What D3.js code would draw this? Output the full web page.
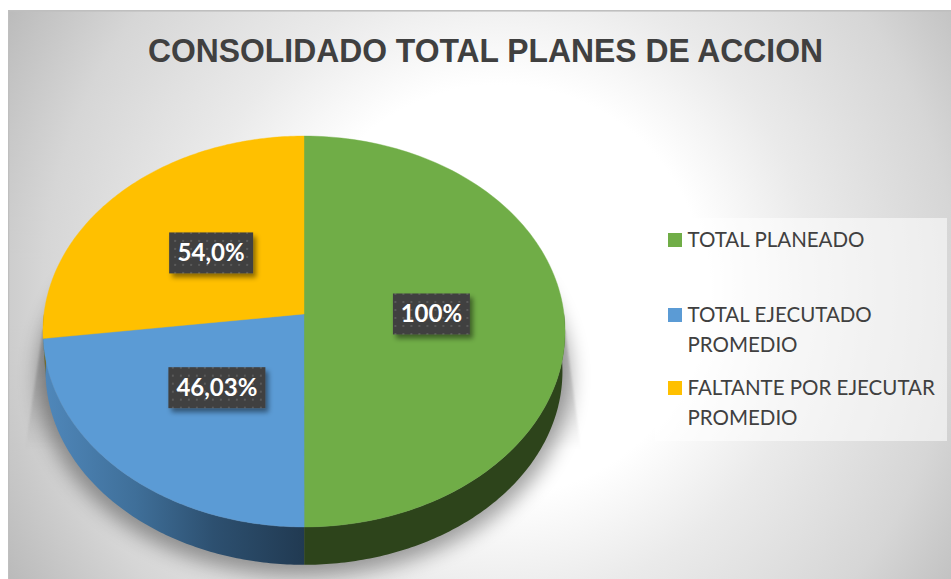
<!DOCTYPE html>
<html><head><meta charset="utf-8">
<script src="https://cdnjs.cloudflare.com/ajax/libs/d3/7.8.5/d3.min.js"></script>
<style>html,body{margin:0;padding:0;background:#fff;overflow:hidden}svg{display:block}</style>
</head><body><div id="c"></div>
<script>
const categories = ["TOTAL PLANEADO", "TOTAL EJECUTADO PROMEDIO", "FALTANTE POR EJECUTAR PROMEDIO"];
const values = [100, 46.03, 54.0];
const valueLabels = ["100%", "46,03%", "54,0%"];
const colors = ["#70ad47", "#5b9bd5", "#ffc000"];
const legendLines = [["TOTAL PLANEADO"], ["TOTAL EJECUTADO", "PROMEDIO"], ["FALTANTE POR EJECUTAR", "PROMEDIO"]];
const title = "CONSOLIDADO TOTAL PLANES DE ACCION";

const W = 951, H = 579;
const svg = d3.select("#c").append("svg").attr("width", W).attr("height", H);
const defs = svg.append("defs");

const bg = defs.append("radialGradient").attr("id", "bg").attr("gradientUnits", "userSpaceOnUse")
  .attr("cx", 500).attr("cy", 290).attr("r", 570);
[[0, "#ffffff"], [0.36, "#ffffff"], [0.55, "#eaeaea"], [0.8, "#d6d6d6"], [1, "#bababa"]].forEach(([o, c]) =>
  bg.append("stop").attr("offset", o).attr("stop-color", c));

const blueWall = defs.append("linearGradient").attr("id", "blueWall").attr("gradientUnits", "userSpaceOnUse")
  .attr("x1", 45).attr("x2", 304).attr("y1", 0).attr("y2", 0);
[[0, "#4f87ba"], [0.35, "#3f6f99"], [0.65, "#2d5070"], [1, "#213a52"]].forEach(([o, c]) =>
  blueWall.append("stop").attr("offset", o).attr("stop-color", c));

defs.append("filter").attr("id", "soft").attr("x", "-20%").attr("y", "-20%").attr("width", "140%").attr("height", "140%")
  .append("feGaussianBlur").attr("stdDeviation", 10);
defs.append("filter").attr("id", "soft2").attr("x", "-30%").attr("y", "-30%").attr("width", "160%").attr("height", "160%")
  .append("feGaussianBlur").attr("stdDeviation", 1.2);
const ds = defs.append("filter").attr("id", "lblShadow").attr("x", "-20%").attr("y", "-30%").attr("width", "150%").attr("height", "170%");
ds.append("feDropShadow").attr("dx", 3).attr("dy", 4).attr("stdDeviation", 2.5).attr("flood-color", "#000").attr("flood-opacity", 0.45);

const dots = defs.append("pattern").attr("id", "dots").attr("width", 8).attr("height", 8).attr("patternUnits", "userSpaceOnUse");
dots.append("rect").attr("width", 8).attr("height", 8).attr("fill", "#404040");
dots.append("rect").attr("x", 3).attr("y", 3).attr("width", 2).attr("height", 2).attr("fill", "#5a5a5a");

// Panel
svg.append("rect").attr("x", 8).attr("y", 10).attr("width", W - 8).attr("height", H - 10).attr("fill", "url(#bg)");
svg.append("rect").attr("x", 8).attr("y", 10).attr("width", W - 8).attr("height", 1.6).attr("fill", "#bfbfbf");
svg.append("rect").attr("x", 8).attr("y", 10).attr("width", 1.2).attr("height", H - 10).attr("fill", "#bfbfbf");

svg.append("text").attr("x", 485.5).attr("y", 62).attr("text-anchor", "middle")
  .attr("font-family", "'Liberation Sans', Arial, sans-serif").attr("font-weight", 700).attr("font-size", 33.5)
  .attr("textLength", 675).attr("lengthAdjust", "spacingAndGlyphs")
  .attr("fill", "#404040").text(title);

// Pie in perspective
const cx = 304, apexY = 314, B = 260, A = 193.9, p = 0.0895, depth = 40;
const project = (ang, f = 1, dy = 0, s = 1) => {
  const u = Math.sin(ang) * f, v = -Math.cos(ang) * f, w = 1 - p * v;
  return [cx + s * B * u / w, apexY + dy + s * A * v / w];
};
const arcs = d3.pie().sort(null).value(d => d)(values);
const line = d3.line();
const rim = (a0, a1, dy = 0, s = 1) => d3.range(0, 121).map(i => project(a0 + (a1 - a0) * i / 120, 1, dy, s));

// Shadow
const sg = svg.append("g");
const flare = defs.append("linearGradient").attr("id", "flare").attr("gradientUnits", "userSpaceOnUse")
  .attr("x1", 0).attr("x2", 0).attr("y1", 330).attr("y2", 450);
[[0, 0.2], [0.6, 0.1], [1, 0]].forEach(([o, a]) => flare.append("stop").attr("offset", o).attr("stop-color", "#000").attr("stop-opacity", a));
const flareL = [[43, 330], [25, 450], [110, 450], [70, 330]];
const flareR = [[565, 330], [581, 450], [500, 450], [540, 330]];
[flareL, flareR].forEach(r => sg.append("path").attr("d", line(r) + "Z").attr("fill", "url(#flare)").attr("filter", "url(#soft2)"));
sg.append("path").attr("d", line(rim(0, 2 * Math.PI, depth + 5, 1.02)) + "Z").attr("fill", "#000").attr("opacity", 0.36).attr("filter", "url(#soft)");

// Side wall: visible lower half, swept from front rim down to shifted rim
const wallFill = ["#2d441b", "url(#blueWall)", "#7f6000"];
arcs.forEach((d, i) => {
  const a0 = Math.max(d.startAngle, Math.PI / 2), a1 = Math.min(d.endAngle, 3 * Math.PI / 2);
  if (a1 <= a0) return;
  const top = rim(a0, a1), bot = rim(a0, a1, depth, 0.99).reverse();
  svg.append("path").attr("d", line(top.concat(bot)) + "Z").attr("fill", wallFill[i]);
});

// Top face
arcs.forEach((d, i) => {
  svg.append("path").attr("d", line([project(0, 0)].concat(rim(d.startAngle, d.endAngle))) + "Z")
    .attr("fill", colors[i]).attr("stroke", colors[i]).attr("stroke-width", 0.4);
});

// Labels
const boxW = [77, 97, 84];
arcs.forEach((d, i) => {
  const [x, y] = project((d.startAngle + d.endAngle) / 2, 0.49);
  const g = svg.append("g").attr("transform", `translate(${x},${y})`);
  g.append("rect").attr("x", -boxW[i] / 2).attr("y", -20.5).attr("width", boxW[i]).attr("height", 41)
    .attr("fill", "url(#dots)").attr("filter", "url(#lblShadow)");
  g.append("text").attr("text-anchor", "middle").attr("y", 8.5)
    .attr("font-family", "Lato, 'Open Sans', sans-serif").attr("font-weight", 700).attr("font-size", 24)
    .attr("fill", "#fff").text(valueLabels[i]);
});

// Legend
svg.append("rect").attr("x", 655).attr("y", 218).attr("width", 292).attr("height", 223).attr("fill", "#fff").attr("opacity", 0.55);
const legendY = [240, 315, 388];
const lg = svg.append("g");
categories.forEach((c, i) => {
  lg.append("rect").attr("x", 668).attr("y", legendY[i] - 7).attr("width", 14).attr("height", 14).attr("fill", colors[i]);
  legendLines[i].forEach((t, j) => {
    lg.append("text").attr("x", 687.5).attr("y", legendY[i] + 7 + j * 29.5)
      .attr("font-family", "Lato, 'Open Sans', sans-serif").attr("font-size", 20.5)
      .attr("fill", "#404040").text(t);
  });
});
</script></body></html>
